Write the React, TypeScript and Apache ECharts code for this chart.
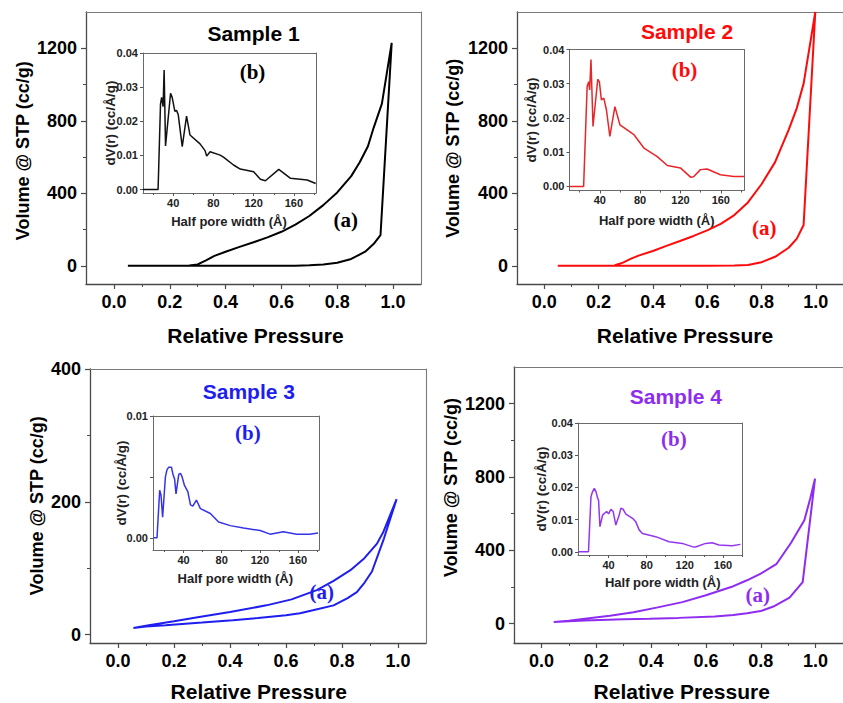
import React, { useEffect, useRef } from "react";
import * as echarts from "echarts";

// ---------- data ----------
const TITLES = ["Sample 1", "Sample 2", "Sample 3", "Sample 4"];
const X_NAME = "Relative Pressure";
const Y_NAME = "Volume @ STP (cc/g)";
const INSET_X_NAME = "Half pore width (Å)";
const INSET_Y_NAME = "dV(r) (cc/Å/g)";

const X_LABELS = [0, 0.2, 0.4, 0.6, 0.8, 1.0];
const X_MINOR = [0.1, 0.3, 0.5, 0.7, 0.9];
const Y_LABELS_BIG = [0, 400, 800, 1200];
const Y_MINOR_BIG = [200, 600, 1000];
const Y_LABELS_S3 = [0, 200, 400];
const Y_MINOR_S3 = [100, 300];
const INSET_X_LABELS = [40, 80, 120, 160];
const INSET_X_MINOR = [20, 60, 100, 140, 180];
const INSET_Y_LABELS = [0, 0.01, 0.02, 0.03, 0.04];
const INSET_Y_LABELS_S3 = [0, 0.01];
const INSET_Y_MINOR_S3 = [0.005];

// isotherms: adsorption branch then desorption branch [P/P0, V]
const ISO_1 = [
  [0.05, 0], [0.1, 0], [0.2, 0], [0.3, 0], [0.4, 0], [0.5, 0], [0.6, 0], [0.65, 1], [0.7, 3],
  [0.75, 7], [0.8, 17], [0.85, 38], [0.9, 78], [0.93, 120], [0.955, 170], [0.995, 1230],
  [0.96, 895], [0.93, 760], [0.91, 660], [0.88, 570], [0.85, 495], [0.8, 405], [0.75, 335],
  [0.7, 275], [0.65, 228], [0.6, 188], [0.55, 157], [0.5, 130], [0.45, 105], [0.4, 78],
  [0.36, 55], [0.33, 30], [0.3, 8], [0.27, 2],
];
const ISO_2 = [
  [0.05, 0], [0.2, 0], [0.4, 0], [0.6, 0], [0.7, 2], [0.75, 5], [0.8, 20], [0.85, 50],
  [0.9, 100], [0.93, 150], [0.955, 225], [0.998, 1400],
  [0.955, 1005], [0.93, 870], [0.9, 750], [0.85, 572], [0.8, 450], [0.75, 350], [0.7, 280],
  [0.65, 232], [0.6, 196], [0.55, 165], [0.5, 137], [0.45, 110], [0.4, 82], [0.35, 58],
  [0.32, 40], [0.29, 18], [0.26, 3],
];
const ISO_3 = [
  [0.055, 10], [0.1, 12], [0.17, 14], [0.3, 18], [0.41, 21.5], [0.5, 25], [0.6, 29], [0.65, 32],
  [0.7, 37], [0.77, 44], [0.82, 55], [0.853, 64], [0.88, 78], [0.907, 95], [0.95, 145], [0.995, 204],
  [0.97, 178], [0.948, 155], [0.925, 137], [0.88, 115], [0.83, 97], [0.77, 81], [0.71, 67],
  [0.62, 53], [0.53, 44], [0.4, 34], [0.29, 26.5], [0.2, 20], [0.11, 14], [0.055, 10],
];
const ISO_4 = [
  [0.045, 9], [0.1, 13], [0.158, 18], [0.3, 24], [0.395, 27], [0.5, 32], [0.632, 40], [0.7, 48],
  [0.75, 57], [0.8, 69], [0.846, 94], [0.905, 142], [0.953, 227], [0.998, 791],
  [0.98, 680], [0.959, 564], [0.91, 440], [0.858, 327], [0.8, 273], [0.75, 237], [0.692, 200],
  [0.6, 155], [0.514, 118], [0.42, 88], [0.336, 63], [0.25, 43], [0.158, 27], [0.1, 17], [0.045, 9],
];

// pore size distributions [half pore width, dV(r)]
const PSD_1 = [
  [10, 0], [25, 0], [27.4, 0.025], [28.5, 0.027], [30, 0.0243], [31, 0.035], [32.4, 0.0128],
  [37.4, 0.0282], [39, 0.027], [41.7, 0.0229], [43.3, 0.0232], [45, 0.022], [49, 0.0126],
  [53.3, 0.0215], [56.7, 0.016], [66.7, 0.0134], [71.7, 0.0114], [73.3, 0.0098], [76.7, 0.0111],
  [86.7, 0.0101], [90, 0.0095], [100, 0.0072], [106.7, 0.006], [120, 0.0052], [126.7, 0.003],
  [131.7, 0.0026], [145, 0.0059], [156.7, 0.0033], [173.3, 0.0028], [181.7, 0.0018],
];
const PSD_2 = [
  [10, 0], [24, 0], [27.5, 0.0292], [29, 0.0306], [30, 0.0282], [31.3, 0.0371], [33.3, 0.0175],
  [38, 0.0313], [39.6, 0.0306], [41.6, 0.0253], [44, 0.0258], [46.6, 0.0224], [50, 0.0146],
  [55, 0.0233], [60, 0.018], [73.9, 0.0151], [83.8, 0.0112], [97, 0.0087], [107, 0.0061],
  [120, 0.0054], [130, 0.0027], [133, 0.0028], [139.8, 0.0049], [146.4, 0.0051],
  [159.6, 0.0034], [172.9, 0.0029], [183, 0.0029],
];
const PSD_3 = [
  [8.7, 0], [12.2, 0], [15, 0.0039], [16.4, 0.0035], [18.1, 0.0017], [21, 0.005], [22.7, 0.0056],
  [24.5, 0.0058], [27.3, 0.0058], [29, 0.0052], [30.7, 0.0048], [32.1, 0.0036], [35, 0.0052],
  [36.8, 0.0053], [38.5, 0.005], [41, 0.0043], [44.5, 0.0038], [47.3, 0.0027], [49.7, 0.0026],
  [53.5, 0.0031], [57.7, 0.0024], [68.1, 0.002], [76.8, 0.0013], [89, 0.001], [102.9, 0.0008],
  [120.3, 0.0006], [130.7, 0.0003], [144.6, 0.0005], [158.5, 0.0003], [172.4, 0.0003], [181, 0.0004],
];
const PSD_4 = [
  [8.6, 0], [19, 0], [21.6, 0.0171], [23.3, 0.0187], [25.1, 0.0197], [26.8, 0.0187],
  [28.6, 0.0167], [29.6, 0.0159], [31, 0.0078], [33.8, 0.0114], [38, 0.0125], [40.1, 0.0118],
  [42.5, 0.0132], [44.9, 0.0125], [47.7, 0.0083], [51.2, 0.0114], [52.9, 0.0135], [55.4, 0.0132],
  [58.2, 0.0117], [65.2, 0.0104], [68.6, 0.0093], [72.1, 0.0068], [75.6, 0.0057], [89.5, 0.0047],
  [103.5, 0.0031], [117.4, 0.0026], [127.8, 0.0016], [131.3, 0.0015], [141.8, 0.0026],
  [148.8, 0.0028], [155.8, 0.0021], [169.7, 0.0019], [178.4, 0.0023],
];

// ---------- style / layout ----------
const SANS = "'Liberation Sans', Arial, Helvetica, sans-serif";
const SERIF = "'Liberation Serif', 'Times New Roman', serif";
const COLORS = ["#000000", "#ff0a0a", "#1e1ef0", "#8e2cf0"];
const INSET_COLORS = ["#111111", "#e8262a", "#3434e6", "#9436ee"];

const ISOS = [ISO_1, ISO_2, ISO_3, ISO_4];
const PSDS = [PSD_1, PSD_2, PSD_3, PSD_4];

const MAIN = [
  { left: 86, top: 12, width: 335, height: 272, yMin: -100, yMax: 1400, yl: Y_LABELS_BIG, ym: Y_MINOR_BIG },
  { left: 517, top: 12, width: 335, height: 272, yMin: -100, yMax: 1400, yl: Y_LABELS_BIG, ym: Y_MINOR_BIG },
  { left: 90, top: 369, width: 336, height: 274, yMin: -12.7, yMax: 400, yl: Y_LABELS_S3, ym: Y_MINOR_S3 },
  { left: 514, top: 367, width: 337, height: 276, yMin: -105, yMax: 1400, yl: Y_LABELS_BIG, ym: Y_MINOR_BIG },
];
const INSET = [
  { left: 143, top: 53, width: 173, height: 140, xMin: 10, xMax: 182, yMin: -0.001, yMax: 0.04, yl: INSET_Y_LABELS, ym: [] as number[], yNameDx: -33 },
  { left: 569.5, top: 49.5, width: 174.5, height: 141, xMin: 10, xMax: 183, yMin: -0.0012, yMax: 0.04, yl: INSET_Y_LABELS, ym: [] as number[], yNameDx: -38 },
  { left: 153, top: 416, width: 166, height: 134, xMin: 8, xMax: 182, yMin: -0.001, yMax: 0.01, yl: INSET_Y_LABELS_S3, ym: INSET_Y_MINOR_S3, yNameDx: -32 },
  { left: 578, top: 423, width: 164, height: 132, xMin: 8, xMax: 180, yMin: -0.001, yMax: 0.04, yl: INSET_Y_LABELS, ym: [] as number[], yNameDx: -37 },
];
const TITLE_POS = [[253.5, 33], [687, 31.7], [248.8, 391.7], [675.8, 396]];
const B_POS = [[252.5, 71.7], [684.5, 70], [247.8, 433.3], [673.8, 439.3]];
const A_POS = [[345.8, 220], [764.2, 227.7], [321.7, 591.7], [757.8, 595]];
const XNAME_POS = [[255.5, 335], [685, 335], [258.7, 691], [681.7, 691.5]];
const YNAME_POS = [[22.5, 150.8], [452.5, 148.3], [36.7, 505.8], [450.8, 487.5]];
const IXNAME_POS = [[229, 221.7], [656.7, 220], [235.3, 578.3], [662.7, 582.7]];

function buildOption() {
  const grid: any[] = [];
  const xAxis: any[] = [];
  const yAxis: any[] = [];
  const series: any[] = [];
  const graphic: any[] = [];

  const axisLine = { show: true, onZero: false, lineStyle: { color: "#4a4a4a", width: 1.3 } };
  const frameLine = { show: true, onZero: false, lineStyle: { color: "#7a7a7a", width: 1.1 } };
  const hiddenLine = { show: false, onZero: false };
  const mainLabel = { fontFamily: SANS, fontWeight: "bold", fontSize: 18, color: "#000" };
  const insetLabel = { fontFamily: SANS, fontWeight: "bold", fontSize: 11, color: "#222" };

  MAIN.forEach((m, i) => {
    const gi = grid.length;
    grid.push({ left: m.left, top: m.top, width: m.width, height: m.height });
    const xBase = xAxis.length;
    const yBase = yAxis.length;
    xAxis.push({
      type: "value", gridIndex: gi, position: "bottom", min: -0.1, max: 1.1,
      axisLine, splitLine: { show: false },
      axisTick: { show: true, customValues: X_LABELS, length: 5, lineStyle: { color: "#4a4a4a", width: 1.2 } },
      axisLabel: { show: true, customValues: X_LABELS, margin: 9, formatter: (v: number) => v.toFixed(1), ...mainLabel },
    });
    xAxis.push({
      type: "value", gridIndex: gi, position: "bottom", min: -0.1, max: 1.1,
      axisLine: hiddenLine, splitLine: { show: false }, axisLabel: { show: false },
      axisTick: { show: true, customValues: X_MINOR, length: 3, lineStyle: { color: "#4a4a4a", width: 1 } },
    });
    xAxis.push({
      type: "value", gridIndex: gi, position: "top", min: -0.1, max: 1.1,
      axisLine: frameLine, splitLine: { show: false }, axisLabel: { show: false }, axisTick: { show: false },
    });
    yAxis.push({
      type: "value", gridIndex: gi, position: "left", min: m.yMin, max: m.yMax,
      axisLine, splitLine: { show: false },
      axisTick: { show: true, customValues: m.yl, length: 5, lineStyle: { color: "#4a4a4a", width: 1.2 } },
      axisLabel: { show: true, customValues: m.yl, margin: 9, formatter: (v: number) => String(v), ...mainLabel },
    });
    yAxis.push({
      type: "value", gridIndex: gi, position: "left", min: m.yMin, max: m.yMax,
      axisLine: hiddenLine, splitLine: { show: false }, axisLabel: { show: false },
      axisTick: { show: true, customValues: m.ym, length: 3, lineStyle: { color: "#4a4a4a", width: 1 } },
    });
    yAxis.push({
      type: "value", gridIndex: gi, position: "right", min: m.yMin, max: m.yMax,
      axisLine: frameLine, splitLine: { show: false }, axisLabel: { show: false }, axisTick: { show: false },
    });
    series.push({
      type: "line", xAxisIndex: xBase, yAxisIndex: yBase, data: ISOS[i], showSymbol: false,
      lineStyle: { color: COLORS[i], width: 2 }, itemStyle: { color: COLORS[i] }, clip: true, z: 3,
    });

    graphic.push({
      type: "text", x: TITLE_POS[i][0], y: TITLE_POS[i][1],
      style: { text: TITLES[i], fill: COLORS[i], font: `bold 21px ${SANS}`, textAlign: "center", textVerticalAlign: "middle" },
    });
    graphic.push({
      type: "text", x: XNAME_POS[i][0], y: XNAME_POS[i][1],
      style: { text: X_NAME, fill: "#000", font: `bold 21px ${SANS}`, textAlign: "center", textVerticalAlign: "middle" },
    });
    graphic.push({
      type: "text", x: YNAME_POS[i][0], y: YNAME_POS[i][1], rotation: Math.PI / 2,
      style: { text: Y_NAME, fill: "#000", font: `bold 18px ${SANS}`, textAlign: "center", textVerticalAlign: "middle" },
    });
    graphic.push({
      type: "text", x: A_POS[i][0], y: A_POS[i][1],
      style: { text: "(a)", fill: COLORS[i], font: `bold 21px ${SERIF}`, textAlign: "center", textVerticalAlign: "middle" },
    });
  });

  INSET.forEach((n, i) => {
    const gi = grid.length;
    grid.push({ left: n.left, top: n.top, width: n.width, height: n.height });
    const xBase = xAxis.length;
    const yBase = yAxis.length;
    const inLine = { show: true, onZero: false, lineStyle: { color: "#6a6a6a", width: 1 } };
    xAxis.push({
      type: "value", gridIndex: gi, position: "bottom", min: n.xMin, max: n.xMax,
      axisLine: inLine, splitLine: { show: false },
      axisTick: { show: true, customValues: INSET_X_LABELS, length: 3, lineStyle: { color: "#555" } },
      axisLabel: { show: true, customValues: INSET_X_LABELS, margin: 4, ...insetLabel },
    });
    xAxis.push({
      type: "value", gridIndex: gi, position: "bottom", min: n.xMin, max: n.xMax,
      axisLine: hiddenLine, splitLine: { show: false }, axisLabel: { show: false },
      axisTick: { show: true, customValues: INSET_X_MINOR, length: 2, lineStyle: { color: "#555" } },
    });
    xAxis.push({
      type: "value", gridIndex: gi, position: "top", min: n.xMin, max: n.xMax,
      axisLine: inLine, splitLine: { show: false }, axisLabel: { show: false }, axisTick: { show: false },
    });
    yAxis.push({
      type: "value", gridIndex: gi, position: "left", min: n.yMin, max: n.yMax,
      axisLine: inLine, splitLine: { show: false },
      axisTick: { show: true, customValues: n.yl, length: 3, lineStyle: { color: "#555" } },
      axisLabel: { show: true, customValues: n.yl, margin: 5, formatter: (v: number) => v.toFixed(2), ...insetLabel },
    });
    yAxis.push({
      type: "value", gridIndex: gi, position: "left", min: n.yMin, max: n.yMax,
      axisLine: hiddenLine, splitLine: { show: false }, axisLabel: { show: false },
      axisTick: { show: n.ym.length > 0, customValues: n.ym, length: 3, lineStyle: { color: "#555" } },
    });
    yAxis.push({
      type: "value", gridIndex: gi, position: "right", min: n.yMin, max: n.yMax,
      axisLine: inLine, splitLine: { show: false }, axisLabel: { show: false }, axisTick: { show: false },
    });
    series.push({
      type: "line", xAxisIndex: xBase, yAxisIndex: yBase, data: PSDS[i], showSymbol: false,
      lineStyle: { color: INSET_COLORS[i], width: 1.5 }, itemStyle: { color: INSET_COLORS[i] }, clip: true, z: 3,
    });
    graphic.push({
      type: "text", x: IXNAME_POS[i][0], y: IXNAME_POS[i][1],
      style: { text: INSET_X_NAME, fill: "#222", font: `bold 13px ${SANS}`, textAlign: "center", textVerticalAlign: "middle" },
    });
    graphic.push({
      type: "text", x: n.left + n.yNameDx, y: n.top + n.height / 2, rotation: Math.PI / 2,
      style: { text: INSET_Y_NAME, fill: "#222", font: `bold 13.5px ${SANS}`, textAlign: "center", textVerticalAlign: "middle" },
    });
    graphic.push({
      type: "text", x: B_POS[i][0], y: B_POS[i][1],
      style: { text: "(b)", fill: COLORS[i], font: `bold 21px ${SERIF}`, textAlign: "center", textVerticalAlign: "middle" },
    });
  });

  return {
    animation: false,
    backgroundColor: "#ffffff",
    grid, xAxis, yAxis, series, graphic,
  };
}

export default function App() {
  const ref = useRef<HTMLDivElement>(null);
  useEffect(() => {
    if (!ref.current) return;
    const chart = echarts.init(ref.current, undefined, { renderer: "svg" });
    chart.setOption(buildOption() as any);
    return () => chart.dispose();
  }, []);
  return (
    <div
      ref={ref}
      style={{ position: "fixed", left: 0, top: 0, width: 843, height: 703, background: "#fff" }}
    />
  );
}
